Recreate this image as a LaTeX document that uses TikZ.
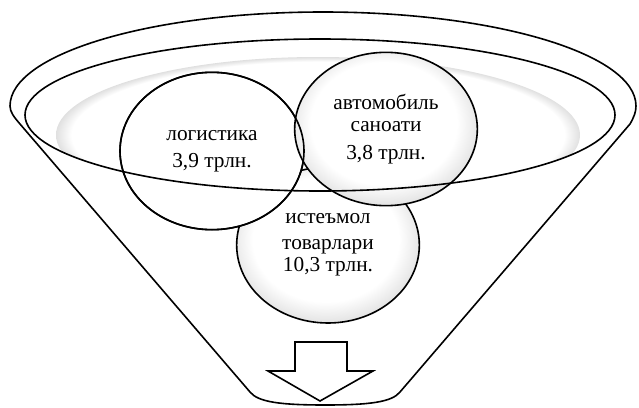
\documentclass[tikz,border=0pt]{standalone}
\usepackage{fontspec}
\setmainfont{Liberation Serif}
\usetikzlibrary{shapes.geometric, positioning, calc}
\pgfdeclareradialshading{rimshade}{\pgfpoint{0bp}{0bp}}{color(0bp)=(white); color(23.5bp)=(white); color(26.5bp)=(black!24); color(50bp)=(black!24)}
\pgfdeclareradialshading{ballshade}{\pgfpoint{-1bp}{3bp}}{color(0bp)=(white); color(20bp)=(white); color(30bp)=(black!17); color(50bp)=(black!17)}

\begin{document}
\begin{tikzpicture}[
        x=0.75pt, y=-0.75pt,
        font=\fontsize{16}{17}\selectfont,
        rim/.style={draw=black, line width=1.2pt},
        bowl/.style={
            ellipse,
            draw=black,
            line width=1.2pt,
            align=center,
            inner sep=0pt,
            minimum width=137pt,
            minimum height=117pt
        }
    ]
    \useasboundingbox (0,0) rectangle (639,407);

    % shaded inside of the rim
    \begin{scope}
        \clip (320,115) ellipse [x radius=295, y radius=76];
        \shade[shading=rimshade] (318,135) ellipse [x radius=262, y radius=78];
    \end{scope}

    % Sectors
    \node[bowl, shade, shading=ballshade] (goods) at (328,245) {истеъмол\\[2pt]товарлари\\10,3 трлн.};
    \node[bowl, fill=white, minimum width=138pt, minimum height=118pt] (logist) at (212,151) {логистика\\[3pt]3,9 трлн.};
    \node[bowl, shade, shading=ballshade, minimum height=115pt] (auto) at (386,129) {автомобиль\\саноати\\[4pt]3,8 трлн.};
    \draw[rim] (logist.center) ellipse [x radius=92, y radius=78.7];

    % Funnel
    \draw[rim] (320,115) ellipse [x radius=295, y radius=76];
    \draw[rim] (250,392) -- (20,124) .. controls (14,117) and (10,112) .. (10,106)
        arc[start angle=180, end angle=360, x radius=313, y radius=94]
        .. controls (636,112) and (634,117) .. (630,124) -- (400,392)
        .. controls (392,402) and (370,405) .. (325,405)
        .. controls (280,405) and (258,402) .. (250,392) -- cycle;

    % Outlet
    \draw[rim, fill=white] (295,342) -- (347,342) -- (347,371) -- (373,371)
        -- (320,401) -- (268,371) -- (295,371) -- cycle;

\end{tikzpicture}
\end{document}
